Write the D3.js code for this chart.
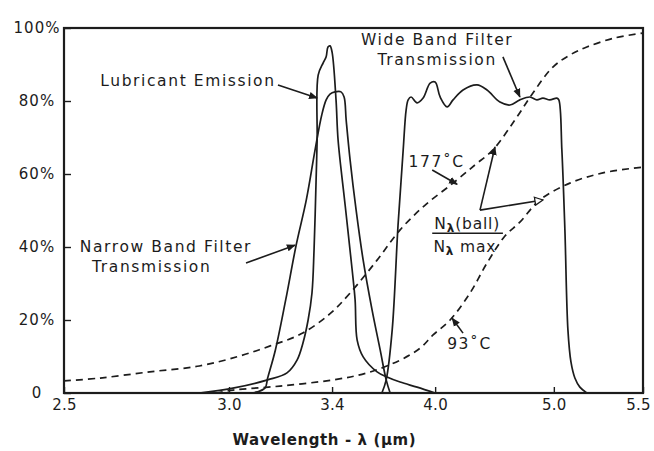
<!DOCTYPE html>
<html>
<head>
<meta charset="utf-8">
<script src="https://cdn.jsdelivr.net/npm/d3@7"></script>
<style>
  html, body { margin: 0; padding: 0; background: #ffffff; }
  svg { display: block; }
  text { font-family: "DejaVu Sans", "Liberation Sans", sans-serif; fill: #1c1c1c; }
</style>
</head>
<body>
<svg id="chart" width="654" height="451"></svg>
<script>
// ---------------- data ----------------
const xTickValues = [2.5, 3.0, 3.4, 4.0, 5.0, 5.5];
const xTickLabels = ["2.5", "3.0", "3.4", "4.0", "5.0", "5.5"];
// the original wavelength axis is non-uniform: fraction of axis length at each tick
const xTickFractions = [0, 0.285, 0.463, 0.641, 0.846, 1];
const yTickValues = [0, 20, 40, 60, 80, 100];
const yTickLabels = ["0", "20%", "40%", "60%", "80%", "100%"];

// Narrow band filter transmission [wavelength µm, %]
const narrowBand = [
  [3.08, 0], [3.11, 0.3], [3.14, 1.4], [3.15, 4.1], [3.18, 11.8], [3.22, 25.5],
  [3.26, 40.3], [3.30, 52.9], [3.334, 66.6], [3.36, 76.2], [3.377, 80.3], [3.392, 81.9],
  [3.417, 82.5], [3.452, 82.5], [3.47, 81.1], [3.482, 74.8], [3.505, 63.8], [3.54, 50.1],
  [3.581, 36.4], [3.633, 22.7], [3.68, 11.8], [3.715, 3.6], [3.738, 0]
];
// Lubricant emission
const lubricant = [
  [2.91, 0], [3.02, 1.4], [3.15, 3.6], [3.225, 5.5], [3.264, 9.0], [3.287, 13.7],
  [3.307, 20.0], [3.322, 27.4], [3.330, 39.2], [3.338, 58.4], [3.342, 69.3], [3.346, 87.1],
  [3.365, 90.4], [3.377, 92.1], [3.384, 94.8], [3.392, 95.1], [3.40, 93.4], [3.423, 80.3],
  [3.435, 69.3], [3.476, 51.5], [3.517, 33.7], [3.534, 25.5], [3.546, 14.5], [3.581, 9.9],
  [3.662, 5.8], [3.72, 4.4], [3.796, 3.0], [3.895, 1.6], [4.0, 0]
];
// Wide band filter transmission
const wideBand = [
  [3.69, 0], [3.715, 3.6], [3.75, 17.3], [3.784, 46.0], [3.814, 66.6], [3.831, 77.5],
  [3.843, 80.3], [3.86, 81.1], [3.895, 79.5], [3.93, 80.8], [3.971, 84.9], [4.0, 85.2],
  [4.042, 81.1], [4.101, 78.4], [4.151, 80.3], [4.235, 83.0], [4.353, 84.4], [4.437, 83.0],
  [4.546, 79.7], [4.63, 78.9], [4.714, 80.3], [4.798, 81.1], [4.857, 80.3], [4.908, 80.8],
  [4.966, 80.3], [5.017, 80.8], [5.028, 80.3], [5.045, 66.6], [5.062, 44.7], [5.079, 17.3],
  [5.096, 8.5], [5.118, 4.1], [5.146, 1.6], [5.185, 0]
];
// Relative ball radiance N_lambda(ball)/N_lambda max, 177 °C
const ball177 = [
  [2.50, 3.3], [2.61, 4.1], [2.76, 5.8], [2.91, 7.4], [3.04, 10.1], [3.16, 12.9],
  [3.28, 16.2], [3.39, 21.6], [3.505, 27.4], [3.662, 36.4], [3.796, 44.7], [3.942, 51.5],
  [4.151, 57.5], [4.336, 62.5], [4.487, 66.6], [4.672, 74.8], [4.824, 82.2], [4.992, 89.3],
  [5.09, 92.6], [5.185, 94.8], [5.343, 97.3], [5.50, 98.6]
];
// 93 °C
const ball93 = [
  [2.96, 0], [3.016, 0.8], [3.198, 1.9], [3.406, 3.6], [3.604, 5.5], [3.796, 9.0],
  [3.913, 12.3], [3.988, 15.9], [4.126, 20.0], [4.294, 27.4], [4.437, 35.6], [4.588, 43.0],
  [4.714, 46.8], [4.882, 52.9], [5.09, 57.5], [5.275, 60.3], [5.50, 61.9]
];

// ---------------- chart ----------------
const svg = d3.select("#chart");
const M = { top: 28, right: 11, bottom: 58, left: 64 };
const W = 654 - M.left - M.right;
const H = 451 - M.top - M.bottom;
const ink = "#1c1c1c";

const x = d3.scaleLinear()
  .domain(xTickValues)
  .range(xTickFractions.map(f => M.left + f * W));
const y = d3.scaleLinear().domain([0, 100]).range([M.top + H, M.top]);

// defs: arrowheads
const defs = svg.append("defs");
defs.append("marker").attr("id", "arrow")
  .attr("viewBox", "0 0 10 10").attr("refX", 9).attr("refY", 5)
  .attr("markerWidth", 9).attr("markerHeight", 9).attr("markerUnits", "userSpaceOnUse")
  .attr("orient", "auto")
  .append("path").attr("d", "M0,1 L10,5 L0,9 Z").attr("fill", ink);
defs.append("marker").attr("id", "arrowOpen")
  .attr("viewBox", "0 0 10 10").attr("refX", 9).attr("refY", 5)
  .attr("markerWidth", 10).attr("markerHeight", 10).attr("markerUnits", "userSpaceOnUse")
  .attr("orient", "auto")
  .append("path").attr("d", "M1,1 L9,5 L1,9 Z").attr("fill", "#fff").attr("stroke", ink).attr("stroke-width", 1.3);

// axes
const xAxis = d3.axisBottom(x)
  .tickValues(xTickValues)
  .tickFormat((d, i) => xTickLabels[i])
  .tickSizeInner(-6).tickSizeOuter(0).tickPadding(10);
const gx = svg.append("g").attr("transform", `translate(0,${M.top + H})`).call(xAxis);
gx.select(".domain").remove();
gx.selectAll(".tick line").attr("stroke", ink).attr("stroke-width", 1.4);
gx.selectAll(".tick text")
  .attr("y", 17).attr("dy", 0)
  .attr("dx", (d, i) => i === xTickValues.length - 1 ? -5 : 0)
  .style("font-size", "15px").style("fill", ink).style("letter-spacing", "0.3px");

const yAxis = d3.axisLeft(y)
  .tickValues(yTickValues)
  .tickFormat((d, i) => yTickLabels[i])
  .tickSizeInner(-7).tickSizeOuter(0);
const gy = svg.append("g").attr("transform", `translate(${M.left},0)`).call(yAxis);
gy.select(".domain").remove();
gy.selectAll(".tick line").attr("stroke", ink).attr("stroke-width", 1.4);
gy.selectAll(".tick text")
  .attr("x", -27).attr("dy", "0.32em")
  .attr("text-anchor", "middle")
  .style("font-size", "15px").style("fill", ink).style("letter-spacing", "1px");

// frame
svg.append("rect")
  .attr("x", M.left).attr("y", M.top).attr("width", W).attr("height", H)
  .attr("fill", "none").attr("stroke", ink).attr("stroke-width", 2.2);

// curves
const line = d3.line()
  .x(d => x(d[0])).y(d => y(d[1]))
  .curve(d3.curveCatmullRom.alpha(0.5));

const plot = svg.append("g");
[
  { data: narrowBand, dash: null },
  { data: lubricant, dash: null },
  { data: wideBand, dash: null },
  { data: ball177, dash: "7,5" },
  { data: ball93, dash: "7,5" }
].forEach(s => {
  plot.append("path")
    .attr("d", line(s.data))
    .attr("fill", "none")
    .attr("stroke", ink)
    .attr("stroke-width", 1.7)
    .attr("stroke-linejoin", "round")
    .attr("stroke-dasharray", s.dash);
});

// annotations (positions in data coordinates)
const ann = svg.append("g");
function label(lx, ly, txt, anchor, size) {
  return ann.append("text")
    .attr("x", x(lx)).attr("y", y(ly))
    .attr("text-anchor", anchor || "start")
    .style("font-size", (size || 15.5) + "px")
    .style("letter-spacing", "1.6px")
    .text(txt);
}
function arrow(x1, y1, x2, y2, open) {
  ann.append("line")
    .attr("x1", x(x1)).attr("y1", y(y1)).attr("x2", x(x2)).attr("y2", y(y2))
    .attr("stroke", ink).attr("stroke-width", 1.6)
    .attr("marker-end", open ? "url(#arrowOpen)" : "url(#arrow)");
}

label(2.61, 84.1, "Lubricant Emission");
arrow(3.19, 84.4, 3.342, 80.8);

label(4.017, 95.3, "Wide Band Filter", "middle");
label(4.017, 89.9, "Transmission", "middle");
arrow(4.571, 92.1, 4.714, 81.1);

label(3.845, 61.9, "177˚C");
arrow(3.983, 61.1, 4.185, 57.2);

label(2.548, 38.6, "Narrow Band Filter");
label(2.585, 33.2, "Transmission");
arrow(3.066, 35.6, 3.256, 40.5);

label(4.101, 12.1, "93˚C");
arrow(4.235, 16.4, 4.143, 20.5);

// N_lambda(ball) / N_lambda max
const num = ann.append("text")
  .attr("x", x(4.27)).attr("y", y(45.0))
  .attr("text-anchor", "middle").style("font-size", "15.5px").style("letter-spacing", "0.8px");
num.append("tspan").text("N");
num.append("tspan").attr("dy", 3).style("font-size", "12px").style("font-weight", "bold").text("λ");
num.append("tspan").attr("dy", -3).text("(ball)");
ann.append("line")
  .attr("x1", x(3.983)).attr("x2", x(4.571))
  .attr("y1", y(43.8)).attr("y2", y(43.8))
  .attr("stroke", ink).attr("stroke-width", 1.5);
const den = ann.append("text")
  .attr("x", x(4.25)).attr("y", y(38.6))
  .attr("text-anchor", "middle").style("font-size", "15.5px").style("letter-spacing", "0.8px");
den.append("tspan").text("N");
den.append("tspan").attr("dy", 3).style("font-size", "12px").style("font-weight", "bold").text("λ");
den.append("tspan").attr("dy", -3).text(" max");
arrow(4.378, 50.1, 4.504, 67.4);
arrow(4.378, 50.1, 4.908, 52.9, true);

// x title
const title = svg.append("text")
  .attr("x", x(3.37)).attr("y", 445)
  .attr("text-anchor", "middle")
  .style("font-size", "15px").style("font-weight", "bold")
  .style("letter-spacing", "0.6px");
title.append("tspan").text("Wavelength - λ (µm)");
</script>
</body>
</html>
